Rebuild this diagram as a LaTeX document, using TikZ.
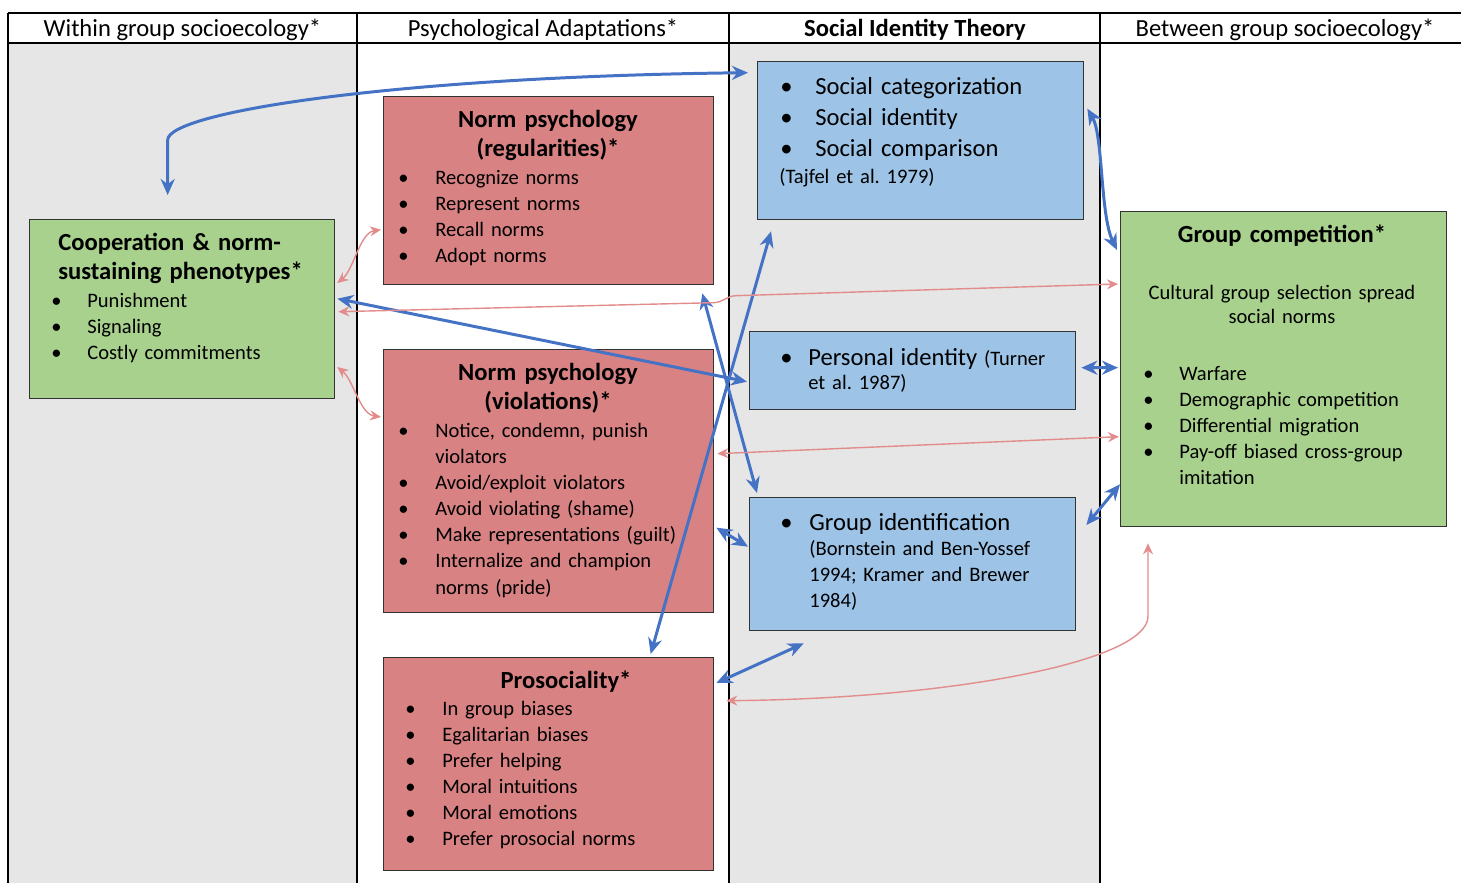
\documentclass[tikz,border=0pt]{standalone}
\usepackage{fontspec}
\setmainfont{Carlito}
\usetikzlibrary{arrows.meta,calc}
\frenchspacing

\definecolor{redfill}{RGB}{217,130,131}
\definecolor{bluefill}{RGB}{157,195,230}
\definecolor{greenfill}{RGB}{169,209,142}
\definecolor{grayfill}{RGB}{230,230,230}
\definecolor{bluearr}{RGB}{68,114,196}
\definecolor{pinkarr}{RGB}{226,140,140}

\newcommand{\bl}[1][0.74cm]{\makebox[#1][l]{\textbullet}}

\tikzset{
  box/.style={draw=black!80, line width=0.8pt, anchor=north west, inner sep=0pt},
  head/.style={anchor=base, inner sep=0pt, font=\fontsize{14}{17}\selectfont},
  ttl/.style={anchor=base, inner sep=0pt, text width=6cm, align=center, font=\fontsize{14}{17}\selectfont\bfseries},
  lst/.style={anchor=base west, inner sep=0pt, text width=7cm, align=left, font=\fontsize{11.7}{14.9}\selectfont},
  big/.style={font=\fontsize{14}{17.9}\selectfont},
  blue link/.style={bluearr, line width=1.7pt, {Stealth[length=3.2mm,width=2.8mm]}-{Stealth[length=3.2mm,width=2.8mm]}},
  pink link/.style={pinkarr, line width=0.8pt, {Stealth[length=2.2mm,width=2mm]}-{Stealth[length=2.2mm,width=2mm]}},
}

\begin{document}
\begin{tikzpicture}[x=0.02cm, y=-0.02cm]
\useasboundingbox (0,0) rectangle (1461,883);

% columns of the table
\fill[grayfill] (8,43) rectangle (357,883);
\fill[grayfill] (729,43) rectangle (1100,883);
\draw[line width=0.8pt] (8,13) -- (1461,13);
\draw[line width=0.8pt] (8,43) -- (1461,43);
\foreach \x in {8,357,729,1100} \draw[line width=0.8pt] (\x,13) -- (\x,883);

\node[head] (h-within) at (182.5,36) {Within group socioecology*};
\node[head] (h-psych) at (543,36) {Psychological Adaptations*};
\node[head,font=\fontsize{14}{17}\selectfont\bfseries] (h-sit) at (915,36) {Social Identity Theory};
\node[head] (h-between) at (1285,36) {Between group socioecology*};

% within group
\node[box, fill=greenfill, minimum width=6.1cm, minimum height=3.58cm] (coop) at (29,219) {};
\node[ttl, anchor=base west, align=left] (coop-t) at (58,250) {Cooperation \& norm-\\sustaining phenotypes*};
\node[lst] (coop-l) at (51,307) {\bl[0.72cm]Punishment\\ \bl[0.72cm]Signaling\\ \bl[0.72cm]Costly commitments};

% psychological adaptations
\node[box, fill=redfill, minimum width=6.6cm, minimum height=3.76cm] (normreg) at (383,96) {};
\node[ttl] (normreg-t) at (548,127) {Norm psychology\\(regularities)*};
\node[lst] (normreg-l) at (398,184) {\bl Recognize norms\\ \bl Represent norms\\ \bl Recall norms\\ \bl Adopt norms};

\node[box, fill=redfill, minimum width=6.6cm, minimum height=5.26cm] (normviol) at (383,349) {};
\node[ttl] (normviol-t) at (548,380) {Norm psychology\\(violations)*};
\node[lst] (normviol-l) at (398,437) {\bl Notice, condemn, punish\\ \hspace*{0.74cm}violators\\ \bl Avoid/exploit violators\\ \bl Avoid violating (shame)\\ \bl Make representations (guilt)\\ \bl Internalize and champion\\ \hspace*{0.74cm}norms (pride)};

\node[box, fill=redfill, minimum width=6.6cm, minimum height=4.26cm] (proso) at (383,657) {};
\node[ttl] (proso-t) at (566,688) {Prosociality*};
\node[lst] (proso-l) at (405,715) {\bl In group biases\\ \bl Egalitarian biases\\ \bl Prefer helping\\ \bl Moral intuitions\\ \bl Moral emotions\\ \bl Prefer prosocial norms};

% social identity theory
\node[box, fill=bluefill, minimum width=6.52cm, minimum height=3.16cm] (socialcat) at (757,61) {};
\node[lst, big] (socialcat-l) at (780,94) {\bl[0.70cm]Social categorization\\ \bl[0.70cm]Social identity\\ \bl[0.70cm]Social comparison};
\node[lst] (socialcat-r) at (779,183) {(Tajfel et al. 1979)};

\node[box, fill=bluefill, minimum width=6.52cm, minimum height=1.56cm] (personal) at (749,331) {};
\node[lst, font=\fontsize{11.7}{14.2}\selectfont] (personal-l) at (780,365) {{\fontsize{14}{14.2}\selectfont\bl[0.56cm]Personal identity} (Turner\\ \hspace*{0.56cm}et al. 1987)};

\node[box, fill=bluefill, minimum width=6.52cm, minimum height=2.66cm] (groupid) at (749,497) {};
\node[lst, font=\fontsize{11.7}{14.7}\selectfont] (groupid-l) at (780,530) {{\fontsize{14}{14.7}\selectfont\bl[0.58cm]Group identification}\\ \hspace*{0.58cm}(Bornstein and Ben-Yossef\\ \hspace*{0.58cm}1994; Kramer and Brewer\\ \hspace*{0.58cm}1984)};

% between group
\node[box, fill=greenfill, minimum width=6.52cm, minimum height=6.3cm] (groupcomp) at (1120,211) {};
\node[ttl] (groupcomp-t) at (1282,242) {Group competition*};
\node[ttl, font=\fontsize{11.7}{14.2}\selectfont] (groupcomp-s) at (1282,299) {Cultural group selection spread\\social norms};
\node[lst] (groupcomp-l) at (1143,380) {\bl[0.72cm]Warfare\\ \bl[0.72cm]Demographic competition\\ \bl[0.72cm]Differential migration\\ \bl[0.72cm]Pay-off biased cross-group\\ \hspace*{0.72cm}imitation};

% blue links
\draw[blue link] ($(coop.north)+(-14.5,-24)$) -- ++(0,-55) .. controls +(0,-28) and +(-350,4) .. ($(socialcat.west)+(-9,-68)$);
\draw[blue link] ($(socialcat.east)+(3,-32)$) .. controls +(16,27) and +(-17,-35) .. ($(groupcomp.north west)+(-3,39)$);
\draw[blue link] ($(personal.east)+(5,-3)$) -- ($(groupcomp.west)+(-2,-1.5)$);
\draw[blue link] ($(groupid.north east)+(10,28)$) -- ($(groupcomp.south west)+(0,-43)$);
\draw[blue link] ($(coop.east)+(2,-10.5)$) -- ($(personal.west)+(-2,11)$);
\draw[blue link] ($(normreg.south east)+(-12,8)$) -- ($(groupid.north west)+(8,-4)$);
\draw[blue link] ($(socialcat.south west)+(14,11)$) -- ($(proso.north)+(102,-3)$);
\draw[blue link] ($(normviol.east)+(2,46.5)$) -- ($(groupid.west)+(-1,-17.5)$);
\draw[blue link] ($(proso.north east)+(2,26)$) -- ($(groupid.south)+(-109,12)$);

% pink links
\draw[pink link] ($(coop.north east)+(2,64)$) .. controls +(16,-13) and +(-21,3) .. ($(normreg.west)+(-2,39)$);
\draw[pink link] ($(coop.north east)+(2,148)$) .. controls +(16,13) and +(-21,-3) .. ($(normviol.north west)+(-2,68)$);
\draw[pink link] ($(coop.east)+(3,2.5)$) -- ++(375,-9) to[out=0,in=180] ++(23,-7) -- ($(groupcomp.north west)+(-2,73)$);
\draw[pink link] ($(normviol.east)+(3,-27.5)$) -- ($(groupcomp.west)+(-1,67.5)$);
\draw[pink link] ($(groupcomp.south west)+(28,16)$) -- ++(0,73) .. controls +(0,45) and +(225,-2) .. ($(proso.east)+(12,-63.5)$);

\end{tikzpicture}
\end{document}
